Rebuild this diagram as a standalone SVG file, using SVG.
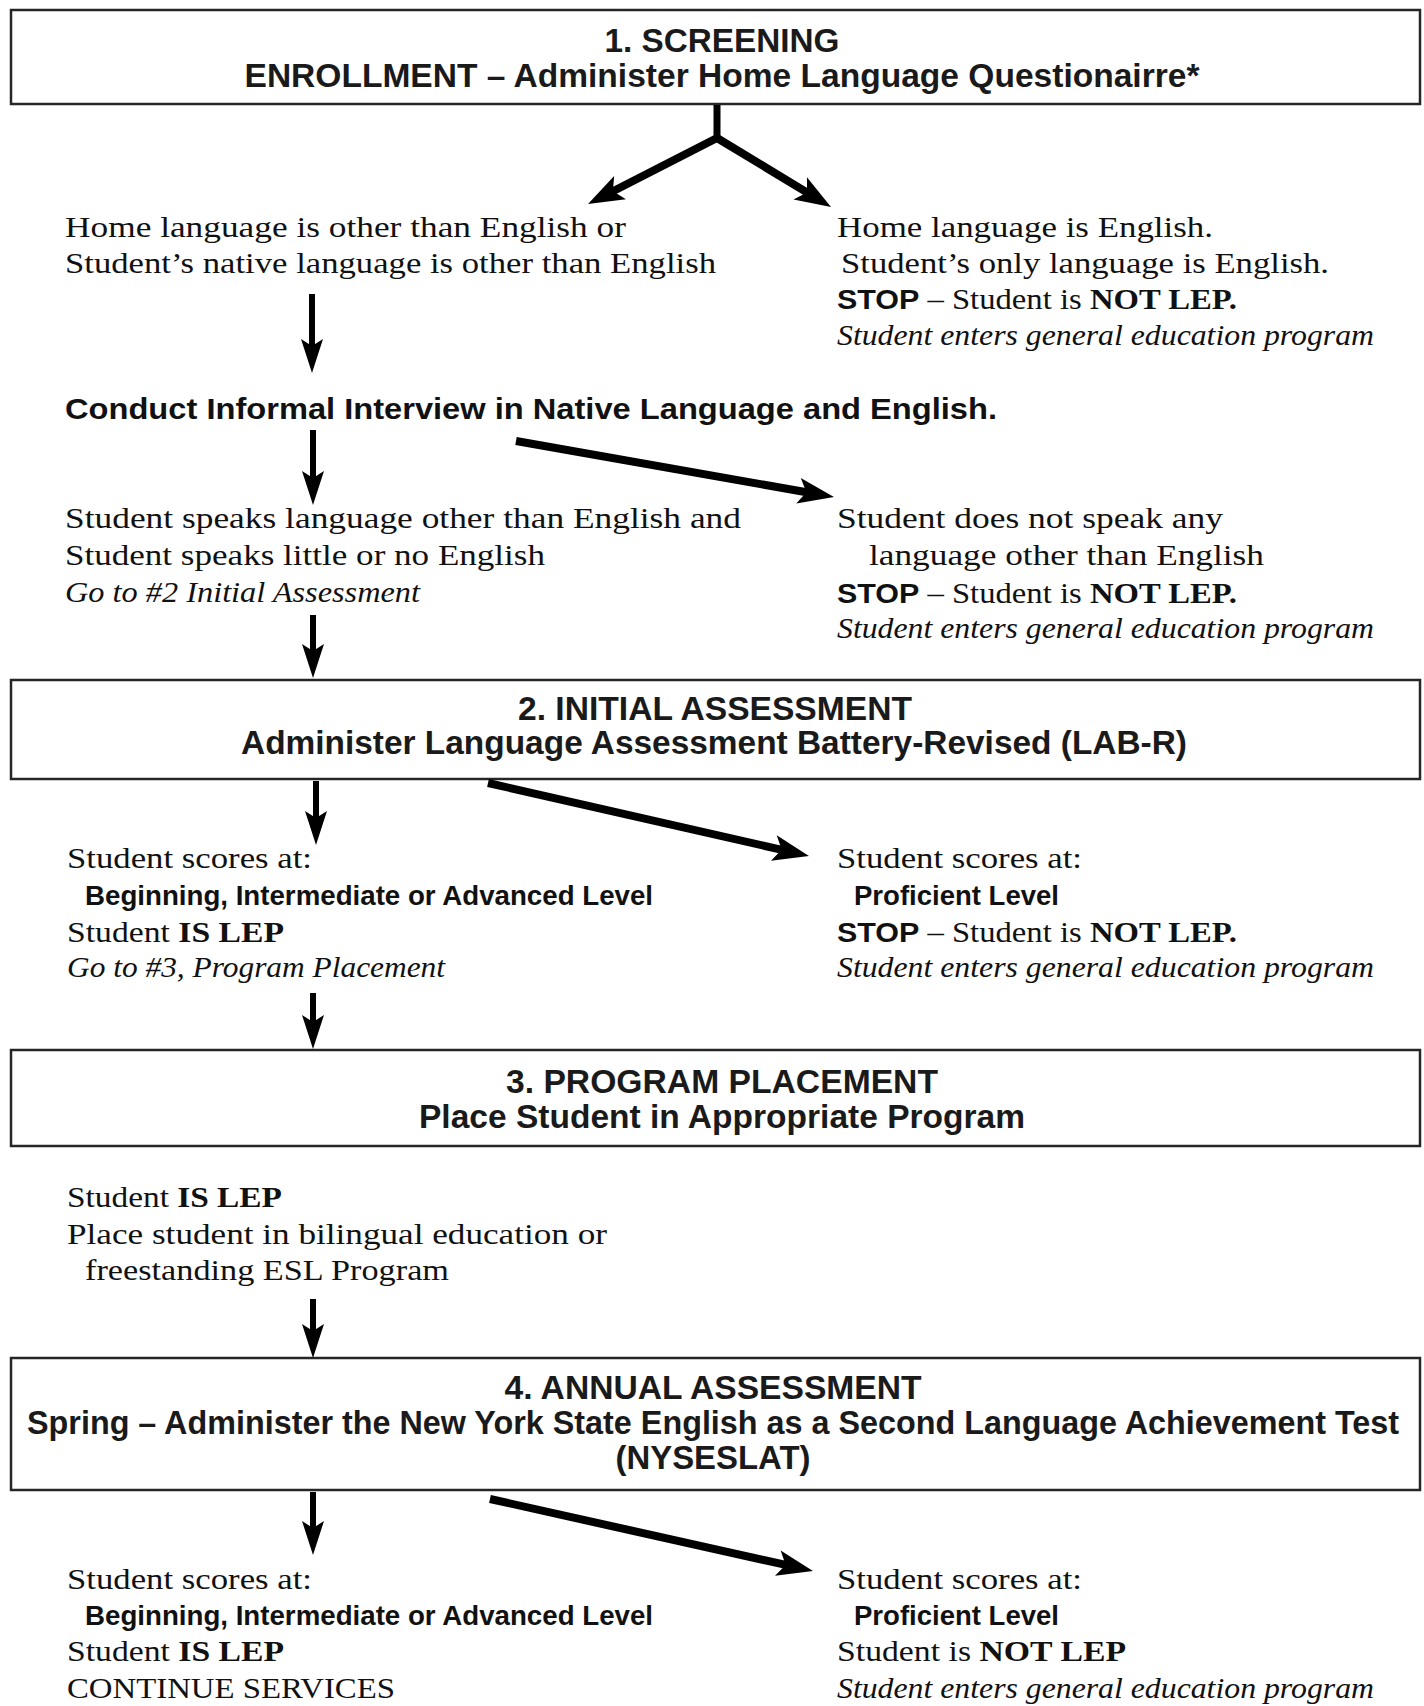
<svg xmlns="http://www.w3.org/2000/svg" width="1424" height="1706" viewBox="0 0 1424 1706">
<style>
.box{fill:#ffffff;stroke:#262626;stroke-width:2.5}
.ttl{font-family:"Liberation Sans",Arial,sans-serif;font-weight:bold;font-size:33px;fill:#1a1a1a;text-anchor:middle}
.sr{font-family:"Liberation Serif","Times New Roman",serif;font-size:29px;fill:#111}
.it{font-style:italic}
.b{font-weight:bold}
.sb{font-family:"Liberation Sans",Arial,sans-serif;font-weight:bold;font-size:27px;fill:#111}
.stop{font-family:"Liberation Sans",Arial,sans-serif;font-weight:bold;font-size:27px}
.ln{fill:none;stroke:#000;stroke-width:6}
.lt{fill:none;stroke:#000;stroke-width:8}
</style>
<defs>
<marker id="ah" markerUnits="userSpaceOnUse" markerWidth="60" markerHeight="40" viewBox="-30 -20 60 40" refX="0" refY="0" orient="auto">
<path d="M22,0 L-12,-11 L-5,0 L-12,11 Z" fill="#000"/>
</marker>
<marker id="aht" markerUnits="userSpaceOnUse" markerWidth="60" markerHeight="40" viewBox="-30 -20 60 40" refX="0" refY="0" orient="auto">
<path d="M22,0 L-14,-13 L-6,0 L-14,13 Z" fill="#000"/>
</marker>
</defs>

<g id="box1">
<rect class="box" x="11" y="10" width="1409" height="94"/>
<text class="ttl" x="722" y="52" textLength="235" lengthAdjust="spacingAndGlyphs">1. SCREENING</text>
<text class="ttl" x="722" y="87" textLength="955" lengthAdjust="spacingAndGlyphs">ENROLLMENT – Administer Home Language Questionairre*</text>
</g>

<g id="blockA-left">
<text class="sr" x="65" y="237" textLength="561" lengthAdjust="spacingAndGlyphs">Home language is other than English or</text>
<text class="sr" x="65" y="273" textLength="651" lengthAdjust="spacingAndGlyphs">Student’s native language is other than English</text>
</g>
<g id="blockA-right">
<text class="sr" x="837" y="237" textLength="376" lengthAdjust="spacingAndGlyphs">Home language is English.</text>
<text class="sr" x="841" y="273" textLength="488" lengthAdjust="spacingAndGlyphs">Student’s only language is English.</text>
<text class="sr" x="837" y="309" textLength="400" lengthAdjust="spacingAndGlyphs"><tspan class="stop">STOP</tspan> – Student is <tspan class="b">NOT LEP.</tspan></text>
<text class="sr it" x="837" y="345" textLength="537" lengthAdjust="spacingAndGlyphs">Student enters general education program</text>
</g>

<g id="interview">
<text class="sb" x="65" y="419" font-size="30" textLength="932" lengthAdjust="spacingAndGlyphs" style="font-size:30px">Conduct Informal Interview in Native Language and English.</text>
</g>

<g id="blockB-left">
<text class="sr" x="65" y="528" textLength="676" lengthAdjust="spacingAndGlyphs">Student speaks language other than English and</text>
<text class="sr" x="65" y="565" textLength="480" lengthAdjust="spacingAndGlyphs">Student speaks little or no English</text>
<text class="sr it" x="65" y="602" textLength="355" lengthAdjust="spacingAndGlyphs">Go to #2 Initial Assessment</text>
</g>
<g id="blockB-right">
<text class="sr" x="837" y="528" textLength="386" lengthAdjust="spacingAndGlyphs">Student does not speak any</text>
<text class="sr" x="869" y="565" textLength="395" lengthAdjust="spacingAndGlyphs">language other than English</text>
<text class="sr" x="837" y="603" textLength="400" lengthAdjust="spacingAndGlyphs"><tspan class="stop">STOP</tspan> – Student is <tspan class="b">NOT LEP.</tspan></text>
<text class="sr it" x="837" y="638" textLength="537" lengthAdjust="spacingAndGlyphs">Student enters general education program</text>
</g>

<g id="box2">
<rect class="box" x="11" y="680" width="1409" height="99"/>
<text class="ttl" x="715" y="720" textLength="394" lengthAdjust="spacingAndGlyphs">2. INITIAL ASSESSMENT</text>
<text class="ttl" x="714" y="754" textLength="946" lengthAdjust="spacingAndGlyphs">Administer Language Assessment Battery-Revised (LAB-R)</text>
</g>

<g id="blockC-left">
<text class="sr" x="67" y="868" textLength="245" lengthAdjust="spacingAndGlyphs">Student scores at:</text>
<text class="sb" x="85" y="905" textLength="568" lengthAdjust="spacingAndGlyphs">Beginning, Intermediate or Advanced Level</text>
<text class="sr" x="67" y="942" textLength="217" lengthAdjust="spacingAndGlyphs">Student <tspan class="b">IS LEP</tspan></text>
<text class="sr it" x="67" y="977" textLength="378" lengthAdjust="spacingAndGlyphs">Go to #3, Program Placement</text>
</g>
<g id="blockC-right">
<text class="sr" x="837" y="868" textLength="245" lengthAdjust="spacingAndGlyphs">Student scores at:</text>
<text class="sb" x="854" y="905" textLength="205" lengthAdjust="spacingAndGlyphs">Proficient Level</text>
<text class="sr" x="837" y="942" textLength="400" lengthAdjust="spacingAndGlyphs"><tspan class="stop">STOP</tspan> – Student is <tspan class="b">NOT LEP.</tspan></text>
<text class="sr it" x="837" y="977" textLength="537" lengthAdjust="spacingAndGlyphs">Student enters general education program</text>
</g>

<g id="box3">
<rect class="box" x="11" y="1050" width="1409" height="96"/>
<text class="ttl" x="722" y="1093" textLength="432" lengthAdjust="spacingAndGlyphs">3. PROGRAM PLACEMENT</text>
<text class="ttl" x="722" y="1128" textLength="606" lengthAdjust="spacingAndGlyphs">Place Student in Appropriate Program</text>
</g>

<g id="blockD">
<text class="sr" x="67" y="1207" textLength="215" lengthAdjust="spacingAndGlyphs">Student <tspan class="b">IS LEP</tspan></text>
<text class="sr" x="67" y="1244" textLength="540" lengthAdjust="spacingAndGlyphs">Place student in bilingual education or</text>
<text class="sr" x="85" y="1280" textLength="364" lengthAdjust="spacingAndGlyphs">freestanding ESL Program</text>
</g>

<g id="box4">
<rect class="box" x="11" y="1358" width="1409" height="132"/>
<text class="ttl" x="713" y="1399" textLength="417" lengthAdjust="spacingAndGlyphs">4. ANNUAL ASSESSMENT</text>
<text class="ttl" x="713" y="1434" textLength="1372" lengthAdjust="spacingAndGlyphs">Spring – Administer the New York State English as a Second Language Achievement Test</text>
<text class="ttl" x="713" y="1469" textLength="195" lengthAdjust="spacingAndGlyphs">(NYSESLAT)</text>
</g>

<g id="blockE-left">
<text class="sr" x="67" y="1589" textLength="245" lengthAdjust="spacingAndGlyphs">Student scores at:</text>
<text class="sb" x="85" y="1625" textLength="568" lengthAdjust="spacingAndGlyphs">Beginning, Intermediate or Advanced Level</text>
<text class="sr" x="67" y="1661" textLength="217" lengthAdjust="spacingAndGlyphs">Student <tspan class="b">IS LEP</tspan></text>
<text class="sr" x="67" y="1698" textLength="328" lengthAdjust="spacingAndGlyphs">CONTINUE SERVICES</text>
</g>
<g id="blockE-right">
<text class="sr" x="837" y="1589" textLength="245" lengthAdjust="spacingAndGlyphs">Student scores at:</text>
<text class="sb" x="854" y="1625" textLength="205" lengthAdjust="spacingAndGlyphs">Proficient Level</text>
<text class="sr" x="837" y="1661" textLength="289" lengthAdjust="spacingAndGlyphs">Student is <tspan class="b">NOT LEP</tspan></text>
<text class="sr it" x="837" y="1698" textLength="537" lengthAdjust="spacingAndGlyphs">Student enters general education program</text>
</g>

<g id="connectors">
<path class="lt" d="M717,105 L717,140" style="stroke-width:7"/>
<path class="lt" d="M717,138 L607.6,194" marker-end="url(#aht)"/>
<path class="lt" d="M717,138 L812.2,195.6" marker-end="url(#aht)"/>
<path class="ln" d="M312,294 L312,351" marker-end="url(#ah)"/>
<path class="ln" d="M313,430 L313,483" marker-end="url(#ah)"/>
<path class="lt" d="M516,441 L812.3,493.2" marker-end="url(#aht)"/>
<path class="ln" d="M313,615 L313,656" marker-end="url(#ah)"/>
<path class="ln" d="M316,781 L316,823" marker-end="url(#ah)"/>
<path class="lt" d="M488,783 L787.5,851.1" marker-end="url(#aht)"/>
<path class="ln" d="M313,993 L313,1027" marker-end="url(#ah)"/>
<path class="ln" d="M313,1299 L313,1336" marker-end="url(#ah)"/>
<path class="ln" d="M313,1492 L313,1533" marker-end="url(#ah)"/>
<path class="lt" d="M490,1499 L791.5,1566.2" marker-end="url(#aht)"/>
</g>
</svg>
